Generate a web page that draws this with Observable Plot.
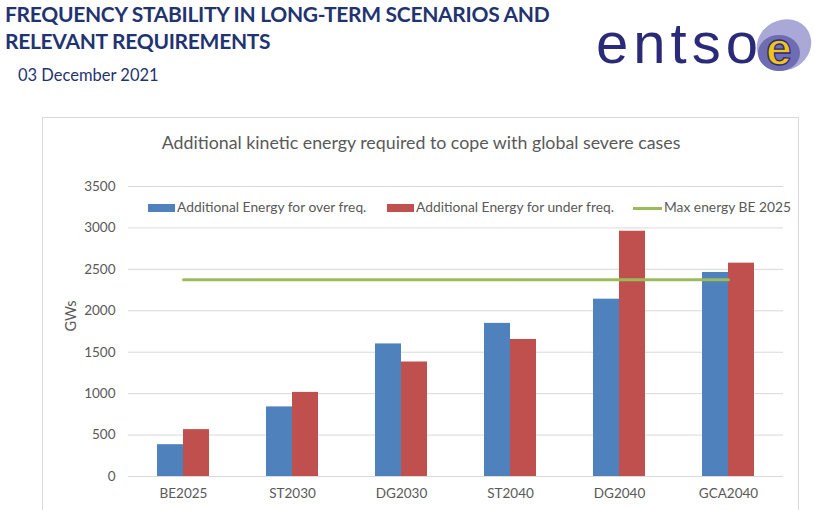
<!DOCTYPE html>
<html>
<head>
<meta charset="utf-8">
<script src="https://cdn.jsdelivr.net/npm/d3@7"></script>
<script src="https://cdn.jsdelivr.net/npm/@observablehq/plot@0.6"></script>
<style>
  html, body { margin: 0; padding: 0; background: #fff; }
  #page { position: relative; width: 815px; height: 510px; overflow: hidden; font-family: Lato, "Open Sans", sans-serif; }
  #head { position: absolute; left: 5px; top: 0px; color: #1f3470; font-weight: 700; font-size: 21px; line-height: 27px; letter-spacing: -0.3px; }
  #date { position: absolute; left: 18px; top: 65px; color: #1f3470; font-size: 16.5px; }
  #frame { position: absolute; left: 42px; top: 117px; width: 757px; height: 420px; border: 1px solid #d9d9d9; box-sizing: border-box; }
  #ctitle { position: absolute; left: 0; width: 842px; top: 131px; text-align: center; color: #595959; font-size: 17.8px; }
  .lg { position: absolute; top: 198px; font-size: 13.8px; color: #595959; white-space: nowrap; }
  .sw { position: absolute; }
  #chart { position: absolute; left: 41px; top: 117px; }
  #logo { position: absolute; left: 585px; top: 8px; }
</style>
</head>
<body>
<div id="page">
  <div id="head">FREQUENCY STABILITY IN LONG-TERM SCENARIOS AND<br>RELEVANT REQUIREMENTS</div>
  <div id="date">03 December 2021</div>
  <svg id="logo" width="230" height="75" viewBox="0 0 230 75">
    <ellipse cx="199" cy="37" rx="28" ry="25" fill="#a9a8d6" transform="rotate(-30 199 37)"/>
    <ellipse cx="194" cy="45" rx="21" ry="18" fill="#6f6db1"/>
    <text x="11" y="55" font-family="'Liberation Sans', Arial, sans-serif" font-size="58" fill="#2b2a78" letter-spacing="5">entso</text>
    <text x="181" y="57" font-family="'Liberation Sans', Arial, sans-serif" font-size="46" font-weight="700" fill="#f2c318" stroke="#2b2a78" stroke-width="1.3">e</text>
  </svg>
  <div id="frame"></div>
  <div id="ctitle"></div>
  <div id="legend"></div>
  <div id="chart"></div>
</div>
<script>
const categories = ["BE2025", "ST2030", "DG2030", "ST2040", "DG2040", "GCA2040"];
const overFreq  = [384, 840, 1600, 1848, 2140, 2462];
const underFreq = [566, 1015, 1382, 1654, 2960, 2575];
const maxEnergyBE2025 = 2375;
const yTicks = [0, 500, 1000, 1500, 2000, 2500, 3000, 3500];
const seriesNames = ["Additional Energy for over freq.", "Additional Energy for under freq.", "Max energy BE 2025"];
const seriesColors = ["#4f81bd", "#c0504d", "#9bbb59"];
const chartTitle = "Additional kinetic energy required to cope with global severe cases";
const yLabel = "GWs";

document.getElementById("ctitle").textContent = chartTitle;

// legend
const legendPos = [{sw: 148, tx: 177}, {sw: 387, tx: 416}, {sw: 633, tx: 664}];
const legend = document.getElementById("legend");
seriesNames.forEach((name, i) => {
  const sw = document.createElement("div");
  sw.className = "sw";
  if (i < 2) {
    Object.assign(sw.style, {left: legendPos[i].sw + "px", top: "204px", width: "27px", height: "8px", background: seriesColors[i]});
  } else {
    Object.assign(sw.style, {left: legendPos[i].sw + "px", top: "207px", width: "29px", height: "3px", background: seriesColors[i]});
  }
  legend.appendChild(sw);
  const t = document.createElement("div");
  t.className = "lg";
  t.style.left = legendPos[i].tx + "px";
  t.textContent = name;
  legend.appendChild(t);
});

const over = categories.map((c, i) => ({category: c, value: overFreq[i]}));
const under = categories.map((c, i) => ({category: c, value: underFreq[i]}));
const maxLine = categories.map(c => ({category: c, value: maxEnergyBE2025}));

const plot = Plot.plot({
  width: 759,
  height: 393,
  marginLeft: 87,
  marginRight: 17,
  marginTop: 69,
  marginBottom: 34,
  style: {fontFamily: "Lato, 'Open Sans', sans-serif", fontSize: "13.5px", color: "#595959", background: "transparent"},
  x: {domain: categories, paddingInner: 0.524, paddingOuter: 0.262, tickSize: 0, tickPadding: 12, label: null},
  y: {domain: [0, 3500], ticks: yTicks, tickFormat: d => String(d), tickSize: 0, tickPadding: 13, label: null},
  marks: [
    Plot.ruleY(yTicks, {stroke: "#d9d9d9", strokeWidth: 1}),
    Plot.barY(over, {x: "category", y: "value", fill: seriesColors[0], insetRight: 26}),
    Plot.barY(under, {x: "category", y: "value", fill: seriesColors[1], insetLeft: 26}),
    Plot.line(maxLine, {x: "category", y: "value", stroke: seriesColors[2], strokeWidth: 3}),
    Plot.text([yLabel], {frameAnchor: "left", dx: -57, rotate: -90, fill: "#595959", fontSize: 14.5})
  ]
});
document.getElementById("chart").appendChild(plot);
</script>
</body>
</html>
